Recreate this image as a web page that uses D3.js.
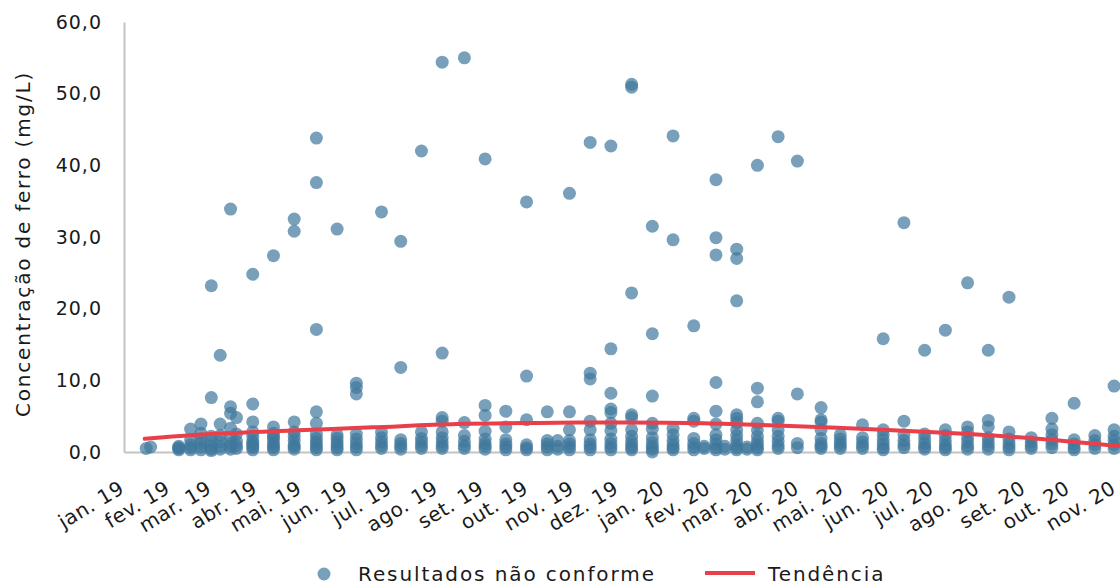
<!DOCTYPE html>
<html><head><meta charset="utf-8">
<script src="https://cdn.jsdelivr.net/npm/d3@7"></script>
<style>
body{margin:0;background:#fff;}
svg{display:block;font-family:"DejaVu Sans",sans-serif;}
</style></head><body>
<svg id="chart" width="1120" height="585"></svg>
<script>
// ---- data ----
const sampleDates = [
 "2019-01-16","2019-01-19","2019-02-07","2019-02-15","2019-02-22","2019-03-01","2019-03-07","2019-03-14","2019-03-18","2019-03-29",
 "2019-04-12","2019-04-26","2019-05-11","2019-05-25","2019-06-07","2019-06-24","2019-07-07","2019-07-21","2019-08-04","2019-08-19",
 "2019-09-02","2019-09-16","2019-09-30","2019-10-14","2019-10-21","2019-10-29","2019-11-12","2019-11-26","2019-12-10","2019-12-24",
 "2020-01-07","2020-01-21","2020-01-28","2020-02-05","2020-02-11","2020-02-19","2020-02-26","2020-03-04","2020-03-18","2020-03-31",
 "2020-04-16","2020-04-29","2020-05-14","2020-05-28","2020-06-11","2020-06-25","2020-07-09","2020-07-24","2020-08-07","2020-08-21",
 "2020-09-05","2020-09-19","2020-10-04","2020-10-18","2020-10-31"
];
const sampleValues = [
 [0.5],
 [0.7],
 [0.3,0.5,0.6,0.8],
 [3.2,1.7,1.0,0.6,0.3],
 [3.9,2.6,1.8,1.2,0.7,0.3],
 [23.2,7.6,2.2,1.5,0.9,0.4,0.2],
 [13.5,3.9,2.3,1.4,0.8,0.4],
 [33.9,6.3,5.4,3.3,2.0,1.2,0.8,0.4],
 [4.8,2.5,1.5,0.9,0.5],
 [24.8,6.7,4.2,2.8,2.2,1.5,1.2,0.9,0.6,0.3],
 [27.4,3.5,2.6,2.2,1.8,1.3,0.9,0.6,0.3],
 [32.5,30.8,4.2,2.8,2.2,1.6,1.0,0.7,0.4],
 [43.8,37.6,17.1,5.6,4.0,2.5,1.9,1.4,1.0,0.6,0.3],
 [31.1,2.4,1.9,1.4,1.0,0.6,0.3],
 [9.6,9.0,8.1,2.5,1.8,1.2,0.7,0.3],
 [33.5,2.8,2.0,1.4,0.9,0.5],
 [29.4,11.8,1.7,1.2,0.8,0.4],
 [42.0,2.8,1.9,1.4,0.9,0.5],
 [54.4,13.8,4.8,4.3,2.8,2.0,1.4,0.9,0.5],
 [55.0,4.1,2.3,1.5,0.9,0.5],
 [40.9,6.5,5.1,2.9,1.8,1.2,0.8,0.4],
 [5.7,3.5,1.7,1.1,0.7,0.3],
 [34.9,10.6,4.5,1.0,0.6,0.3],
 [5.6,1.6,1.1,0.7,0.3],
 [1.6,0.8,0.4],
 [36.1,5.6,3.1,1.6,1.1,0.7,0.3],
 [43.2,11.0,10.2,4.3,3.1,1.7,1.1,0.7,0.3],
 [42.7,14.4,8.2,6.0,5.5,4.0,3.0,1.8,1.2,0.7,0.3],
 [51.3,50.9,22.2,5.2,4.8,3.1,2.2,1.5,1.0,0.6,0.3],
 [31.5,16.5,7.8,4.0,3.2,2.0,1.3,0.8,0.4,0.0],
 [44.1,29.6,3.3,2.4,1.6,1.0,0.6,0.3],
 [17.6,4.7,4.3,1.9,1.2,0.7,0.3],
 [0.8,0.5],
 [38.0,29.9,27.5,9.7,5.7,3.9,2.4,1.7,1.1,0.6,0.3],
 [0.8,0.4],
 [28.3,27.0,21.1,5.2,4.7,4.1,3.1,2.3,1.6,1.0,0.6,0.3],
 [0.7,0.4],
 [40.0,8.9,7.0,4.0,3.1,2.2,1.5,1.0,0.6,0.3],
 [44.0,4.7,4.3,3.1,2.2,1.5,0.9,0.5],
 [40.6,8.1,1.2,0.6],
 [6.2,4.5,4.2,3.1,1.9,1.2,0.8,0.5],
 [2.4,1.8,1.3,0.9,0.5],
 [3.8,2.0,1.4,0.9,0.5],
 [15.8,3.1,2.4,1.7,1.1,0.6,0.3],
 [32.0,4.3,2.4,1.6,1.0,0.6],
 [14.2,2.5,1.8,1.2,0.7,0.4],
 [17.0,3.1,2.3,1.6,1.0,0.6,0.3],
 [23.6,3.5,2.8,2.0,1.4,0.8,0.4],
 [14.2,4.4,3.5,2.0,1.4,0.9,0.4],
 [21.6,2.8,1.8,1.2,0.7,0.3],
 [2.0,1.4,0.9,0.5],
 [4.7,3.2,2.4,1.7,1.1,0.6],
 [6.8,1.7,1.1,0.6,0.3],
 [2.3,1.6,1.0,0.5],
 [9.2,3.1,2.2,1.6,1.0,0.5]
];
const trendDates = ["2019-01-15","2019-02-26","2019-04-24","2019-06-18","2019-08-14","2019-10-08","2019-12-05",
                    "2020-01-28","2020-03-26","2020-05-20","2020-07-15","2020-09-07","2020-11-03"];
const trendValues = [1.85,2.47,3.0,3.44,3.9,4.05,4.12,4.0,3.63,3.16,2.6,1.9,0.84];
const monthNames = ["jan.","fev.","mar.","abr.","mai.","jun.","jul.","ago.","set.","out.","nov.","dez."];
const yTicks = [0,10,20,30,40,50,60];
const xDomain = ["2019-01-01","2020-11-04"];
const seriesName = "Resultados não conforme";
const trendName = "Tendência";
const yTitle = "Concentração de ferro (mg/L)";

// ---- drawing ----
const parse = d3.utcParse("%Y-%m-%d");
const svg = d3.select("#chart");
const x = d3.scaleUtc().domain(xDomain.map(parse)).range([124, 1120]);
const y = d3.scaleLinear().domain([0, 60]).range([452, 22]);
const axisColor = "#c4c4c4";
const dotColor = "#3e779d";
const trendColor = "#e8404a";

const points = [];
sampleDates.forEach((d, i) => sampleValues[i].forEach(v => points.push({date: parse(d), value: v})));

// y axis
const yAxis = svg.append("g").attr("transform", "translate(124,0)")
  .call(d3.axisLeft(y).tickValues(yTicks).tickSize(0).tickPadding(22)
    .tickFormat(d => d3.format(".1f")(d).replace(".", ",")));
yAxis.select(".domain").attr("stroke", axisColor).attr("stroke-width", 2);
yAxis.selectAll("text").attr("font-size", 19).attr("fill", "#1a1a1a")
  .attr("font-family", "DejaVu Sans").style("letter-spacing", "1px");

// x axis
const xAxis = svg.append("g").attr("transform", "translate(0,452)")
  .call(d3.axisBottom(x).ticks(d3.utcMonth.every(1)).tickSize(0)
    .tickFormat(d => monthNames[d.getUTCMonth()] + " " + String(d.getUTCFullYear()).slice(2)));
xAxis.select(".domain").attr("stroke", axisColor).attr("stroke-width", 2);
xAxis.selectAll("text")
  .attr("font-size", 20).attr("fill", "#1a1a1a").attr("font-family", "DejaVu Sans")
  .style("letter-spacing", "0.5px")
  .attr("text-anchor", "end").attr("x", 0).attr("y", 0).attr("dy", 0)
  .attr("transform", "translate(1,40) rotate(-31)");

// points
svg.append("g").selectAll("circle").data(points).join("circle")
  .attr("cx", d => x(d.date)).attr("cy", d => y(d.value)).attr("r", 6.5)
  .attr("fill", dotColor).attr("fill-opacity", 0.7);

// trend
const line = d3.line().x((d, i) => x(parse(d))).y((d, i) => y(trendValues[i])).curve(d3.curveCatmullRom);
svg.append("path").attr("d", line(trendDates)).attr("fill", "none")
  .attr("stroke", trendColor).attr("stroke-width", 4).attr("stroke-linecap", "round");

// y title
svg.append("text").attr("transform", "translate(30,244) rotate(-90)")
  .attr("text-anchor", "middle").attr("font-size", 20).attr("fill", "#1a1a1a")
  .style("letter-spacing", "1.8px").text(yTitle);

// legend
const lg = svg.append("g");
lg.append("circle").attr("cx", 324).attr("cy", 574).attr("r", 6.5).attr("fill", dotColor).attr("fill-opacity", 0.7);
lg.append("text").attr("x", 358).attr("y", 581).attr("font-size", 20).attr("fill", "#1a1a1a")
  .style("letter-spacing", "1.9px").text(seriesName);
lg.append("line").attr("x1", 705).attr("x2", 755).attr("y1", 573).attr("y2", 573)
  .attr("stroke", trendColor).attr("stroke-width", 4);
lg.append("text").attr("x", 768).attr("y", 581).attr("font-size", 20).attr("fill", "#1a1a1a")
  .style("letter-spacing", "1.9px").text(trendName);
</script>
</body></html>
